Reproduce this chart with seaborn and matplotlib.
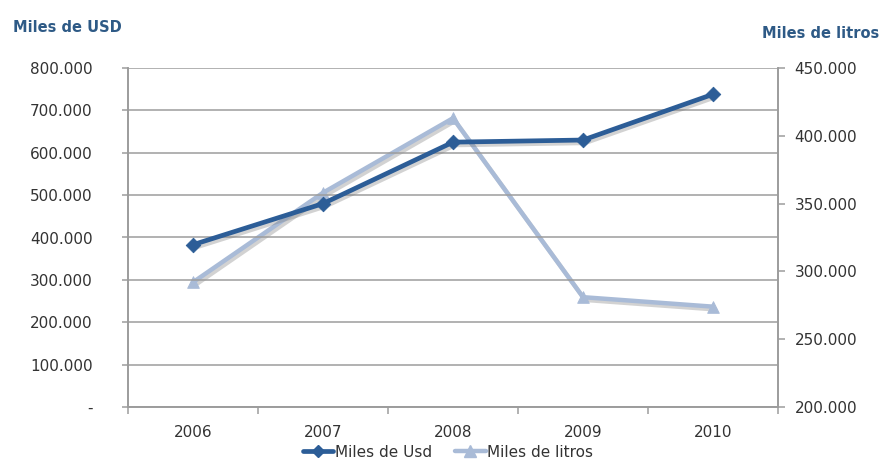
import matplotlib
matplotlib.use("Agg")
import matplotlib.pyplot as plt
import matplotlib.patheffects as pe
from matplotlib.lines import Line2D
from matplotlib.ticker import FuncFormatter, FixedLocator
import pandas as pd
import seaborn as sns

# Yearly series
years = [2006, 2007, 2008, 2009, 2010]
miles_usd = [383000, 480000, 625000, 630000, 738000]
miles_litros = [292000, 358000, 413000, 281000, 274000]

usd_ticks = [0, 100000, 200000, 300000, 400000, 500000, 600000, 700000, 800000]
litros_ticks = [200000, 250000, 300000, 350000, 400000, 450000]

df = pd.DataFrame({"year": years, "usd": miles_usd, "litros": miles_litros})

sns.set_theme(style="white")
plt.rcParams["font.family"] = ["DejaVu Sans"]

DARK = "#2C5D97"
LIGHT = "#A9BBD7"
GRID = "#9C9C9C"
TXT = "#333333"
TITLE = "#2E5A86"

fig = plt.figure(figsize=(8.81, 4.61), dpi=100)
ax = fig.add_axes([128 / 881, 1 - 407 / 461, 650 / 881, 339 / 461])
ax2 = ax.twinx()

shadow = [pe.SimpleLineShadow(offset=(1.5, -2), shadow_color="#808080", alpha=0.35), pe.Normal()]

# lines with a soft drop shadow
sns.lineplot(data=df, x="year", y="usd", ax=ax, color=DARK, linewidth=3.4,
             legend=False, zorder=5, path_effects=shadow)
sns.lineplot(data=df, x="year", y="litros", ax=ax2, color=LIGHT, linewidth=3.2,
             legend=False, zorder=4, path_effects=shadow)
# point markers
sns.scatterplot(data=df, x="year", y="usd", ax=ax, color=DARK, marker="D", s=55,
                edgecolor=DARK, legend=False, zorder=6)
sns.scatterplot(data=df, x="year", y="litros", ax=ax2, color=LIGHT, marker="^", s=70,
                edgecolor=LIGHT, legend=False, zorder=6)
ax.set_zorder(ax2.get_zorder() + 1)
ax.patch.set_visible(False)

ax.set_xlim(years[0] - 0.5, years[-1] + 0.5)
ax.set_ylim(usd_ticks[0], usd_ticks[-1])
ax2.set_ylim(litros_ticks[0], litros_ticks[-1])

def thousands(v, pos=None):
    if v == 0:
        return "-"
    return f"{int(round(v)):,}".replace(",", ".")

ax.yaxis.set_major_locator(FixedLocator(usd_ticks))
ax.yaxis.set_major_formatter(FuncFormatter(thousands))
ax2.yaxis.set_major_locator(FixedLocator(litros_ticks))
ax2.yaxis.set_major_formatter(FuncFormatter(thousands))

ax.set_xticks(years)
ax.set_xticklabels([str(y) for y in years])
ax.set_xticks([y - 0.5 for y in years] + [years[-1] + 0.5], minor=True)

ax.grid(axis="y", color=GRID, linewidth=1.1)
ax.grid(axis="x", visible=False)
ax2.grid(False)

for a in (ax, ax2):
    for s in a.spines.values():
        s.set_color(GRID)
        s.set_linewidth(1.2)
    a.spines["top"].set_visible(False)
    a.set_xlabel("")
    a.set_ylabel("")

ax.tick_params(axis="y", which="major", direction="out", length=4.5, width=1.1, color=GRID,
               labelsize=11, labelcolor=TXT, pad=21, left=True)
ax.tick_params(axis="x", which="major", length=0, labelsize=11, labelcolor=TXT, pad=13)
ax.tick_params(axis="x", which="minor", direction="out", length=5, width=1.1, color=GRID, bottom=True)
ax2.tick_params(axis="y", which="major", direction="out", length=5, width=1.1, color=GRID,
                labelsize=11, labelcolor=TXT, pad=7, right=True)
for lbl in ax.get_yticklabels():
    lbl.set_horizontalalignment("right")

fig.text(13 / 881, 1 - 28 / 461, "Miles de USD", fontsize=10.5, fontweight="bold",
         color=TITLE, ha="left", va="center")
fig.text(879 / 881, 1 - 33 / 461, "Miles de litros", fontsize=10.5, fontweight="bold",
         color=TITLE, ha="right", va="center")

handles = [
    Line2D([], [], color=DARK, linewidth=3.4, marker="D", markersize=6),
    Line2D([], [], color=LIGHT, linewidth=3.2, marker="^", markersize=8),
]
fig.legend(handles, ["Miles de Usd", "Miles de litros"], loc="center",
           bbox_to_anchor=(448 / 881, 1 - 452 / 461), ncol=2, frameon=False,
           fontsize=11, labelcolor=TXT, handlelength=2.0, handletextpad=0.1,
           columnspacing=1.5, borderaxespad=0)

fig.savefig("out.png", dpi=100)
